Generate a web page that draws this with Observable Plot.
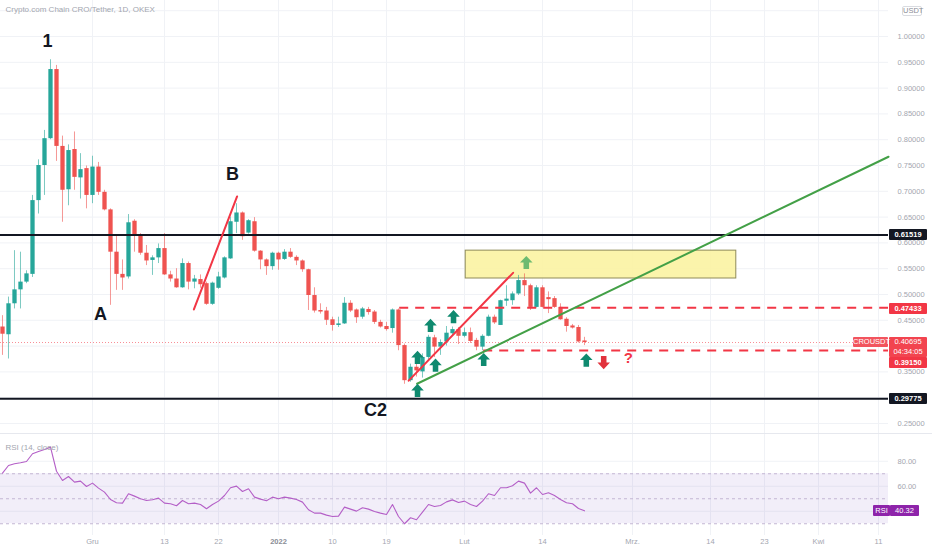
<!DOCTYPE html>
<html><head><meta charset="utf-8">
<script src="https://cdn.jsdelivr.net/npm/d3@7"></script>
<script src="https://cdn.jsdelivr.net/npm/@observablehq/plot@0.6"></script>
<style>
body{margin:0;background:#fff;font-family:"Liberation Sans",Arial,sans-serif;}
#wrap{position:relative;width:932px;height:550px;overflow:hidden;background:#fff;}
#wrap svg{position:absolute;left:0;}
.tag{position:absolute;color:#fff;font-size:7.5px;font-weight:bold;text-align:center;line-height:11px;box-sizing:border-box;border-radius:1px;}
</style></head><body><div id="wrap"></div>
<script>
// ---- data ----
const firstDay = Date.UTC(2021, 10, 16); // first candle: 16 Nov 2021, daily candles
const open  = [0.437,0.422,0.482,0.509,0.524,0.539,0.682,0.750,0.802,0.936,
  0.787,0.703,0.781,0.726,0.744,0.692,0.747,0.698,0.664,0.582,
  0.539,0.534,0.642,0.613,0.580,0.566,0.571,0.589,0.538,0.530,
  0.513,0.560,0.524,0.529,0.521,0.481,0.512,0.532,0.569,0.640,
  0.658,0.619,0.641,0.584,0.567,0.554,0.580,0.568,0.582,0.572,
  0.565,0.548,0.498,0.469,0.468,0.451,0.440,0.443,0.483,0.470,
  0.456,0.471,0.466,0.446,0.438,0.434,0.470,0.401,0.333,0.359,
  0.350,0.378,0.416,0.398,0.408,0.424,0.432,0.419,0.426,0.411,
  0.398,0.419,0.456,0.440,0.487,0.488,0.501,0.527,0.517,0.475,
  0.513,0.494,0.492,0.475,0.452,0.439,0.436,0.410];
const high  = [0.459,0.495,0.585,0.582,0.546,0.692,0.761,0.818,0.955,0.944,
  0.807,0.790,0.815,0.773,0.749,0.768,0.756,0.702,0.666,0.614,
  0.567,0.655,0.645,0.618,0.595,0.575,0.598,0.618,0.545,0.550,
  0.569,0.563,0.537,0.538,0.524,0.524,0.543,0.573,0.650,0.676,
  0.660,0.645,0.649,0.585,0.569,0.582,0.582,0.587,0.589,0.575,
  0.567,0.549,0.513,0.482,0.475,0.456,0.456,0.494,0.488,0.472,
  0.475,0.475,0.469,0.450,0.446,0.472,0.472,0.404,0.365,0.375,
  0.385,0.421,0.421,0.412,0.438,0.437,0.436,0.435,0.435,0.415,
  0.422,0.460,0.460,0.489,0.517,0.505,0.537,0.540,0.520,0.517,
  0.517,0.505,0.496,0.482,0.455,0.442,0.440,0.417];
const low   = [0.382,0.375,0.472,0.472,0.521,0.533,0.656,0.692,0.800,0.758,
  0.640,0.672,0.702,0.685,0.666,0.676,0.692,0.662,0.479,0.508,
  0.508,0.530,0.582,0.576,0.556,0.537,0.560,0.537,0.524,0.512,
  0.512,0.509,0.511,0.512,0.479,0.479,0.510,0.530,0.568,0.618,
  0.605,0.617,0.582,0.548,0.537,0.547,0.547,0.566,0.570,0.556,
  0.543,0.469,0.464,0.462,0.440,0.429,0.436,0.442,0.465,0.444,
  0.452,0.460,0.442,0.435,0.429,0.425,0.391,0.326,0.330,0.340,
  0.338,0.372,0.378,0.382,0.400,0.420,0.403,0.416,0.405,0.391,
  0.391,0.418,0.442,0.440,0.477,0.479,0.498,0.496,0.469,0.474,
  0.474,0.463,0.473,0.450,0.427,0.433,0.406,0.401];
const close = [0.423,0.482,0.509,0.524,0.540,0.682,0.750,0.802,0.936,0.787,
  0.702,0.779,0.727,0.742,0.692,0.747,0.698,0.664,0.582,0.539,
  0.532,0.639,0.613,0.580,0.565,0.571,0.589,0.538,0.530,0.513,
  0.560,0.524,0.530,0.519,0.481,0.522,0.534,0.571,0.641,0.658,
  0.612,0.643,0.584,0.567,0.554,0.580,0.567,0.582,0.572,0.565,
  0.548,0.498,0.468,0.466,0.450,0.440,0.443,0.483,0.468,0.455,
  0.472,0.465,0.446,0.437,0.432,0.470,0.401,0.333,0.359,0.352,
  0.378,0.417,0.398,0.407,0.425,0.432,0.419,0.426,0.409,0.398,
  0.419,0.456,0.445,0.488,0.491,0.501,0.527,0.517,0.475,0.513,
  0.475,0.490,0.475,0.451,0.438,0.435,0.408,0.407];
const rsi   = [70.5,76.6,78,78.8,79.8,86,87.8,89.4,91.3,72,
  64.6,67.8,63.3,64.1,59.8,62.5,58.5,55.3,49.4,46.8,
  46.5,54,52.1,50,48.6,49.2,50.5,46.5,46,44.4,
  48.6,46,46.5,45.4,42,45.4,48.1,52.6,58.8,60.1,
  55.8,58,51.3,49.7,48.4,51.3,50,51.3,50.5,49.4,
  47.3,41.2,38.5,38.5,36.9,35.8,36.1,43.3,41.7,40.1,
  42.8,41.7,39.8,38.5,37.4,45.4,35.8,30,34.8,33.2,
  39.3,45.4,43.8,44.6,47.5,49.1,47,48.1,45.4,43.8,
  48.1,54,52.6,58.8,58.8,60.4,64.1,62.5,54.5,58.8,
  53.4,54.8,52.6,49.4,46.8,46,42.2,40.32];

const priceGrid = [0.25,0.30,0.35,0.40,0.45,0.50,0.55,0.60,0.65,0.70,0.75,0.80,0.85,0.90,0.95,1.00,1.05];
const priceTickLabels = [0.25,0.35,0.45,0.50,0.55,0.60,0.65,0.70,0.75,0.80,0.85,0.90,0.95,1.00];
const rsiGrid = [80,60,40];
const rsiTickLabels = [80,60];
const rsiBands = [70,50,30];
const tickDates = [[2021,11,1],[2021,11,13],[2021,11,22],[2022,0,1],[2022,0,10],[2022,0,19],[2022,1,1],[2022,1,14],[2022,2,1],[2022,2,14],[2022,2,23],[2022,3,1],[2022,3,11]].map(([y,m,d]) => new Date(Date.UTC(y,m,d)));
const tickLabels = ["Gru","13","22","2022","10","19","Lut","14","Mrz.","14","23","Kwi","11"];

// drawing anchors, in days after 1 Dec 2021 and price
const hLevels = [0.61519, 0.29775];
const lastPrice = 0.40695;
const dashedLevels = [{d:51.2, p:0.47433}, {d:65.2, p:0.39150}];
const greenTrend = [{d:54.1, p:0.327}, {d:132.67, p:0.767}];
const redTrendB = [{d:16.9, p:0.471}, {d:24.1, p:0.690}];
const redTrendC = [{d:52.7, p:0.333}, {d:70.1, p:0.542}];
const zone = [{d1:62.2, d2:107.3, p1:0.531, p2:0.585}];
const upArrows = [{d:54.17,p:0.314},{d:54.17,p:0.378},{d:56.33,p:0.440},{d:57.17,p:0.363},{d:60.17,p:0.457},{d:65.2,p:0.374},{d:82.3,p:0.373}];
const lightArrows = [{d:72.3,p:0.562}];
const downArrows = [{d:85.2,p:0.368}];
const questionMarks = [{d:89.3,p:0.376,t:"?"}];
const waveLabels = [{d:-7.5,p:0.990,t:"1"},{d:1.33,p:0.461,t:"A"},{d:23.33,p:0.733,t:"B"},{d:47.17,p:0.275,t:"C2"}];

// ---- build ----
const dec1 = Date.UTC(2021, 11, 1);
const at = d => new Date(dec1 + d * 864e5);
const xDomain = [at(-15.333), at(132.667)];
const candles = open.map((o, i) => ({date: new Date(firstDay + i * 864e5), o, h: high[i], l: low[i], c: close[i], up: close[i] >= o}));
const rsiData = rsi.map((v, i) => ({date: candles[i].date, v}));
const GREEN = "#26a69a", RED = "#ef5350";
const gridC = "#f0f2f6", axisText = "#a3a6af";
const font = "Liberation Sans, Arial, sans-serif";

const upSym = {draw(ctx, size){ const r = Math.sqrt(size/Math.PI); const w = r*0.42;
  ctx.moveTo(0,-r); ctx.lineTo(r*0.95,0); ctx.lineTo(w,0); ctx.lineTo(w,r); ctx.lineTo(-w,r); ctx.lineTo(-w,0); ctx.lineTo(-r*0.95,0); ctx.closePath(); }};
const downSym = {draw(ctx, size){ const r = Math.sqrt(size/Math.PI); const w = r*0.42;
  ctx.moveTo(0,r); ctx.lineTo(r*0.95,0); ctx.lineTo(w,0); ctx.lineTo(w,-r); ctx.lineTo(-w,-r); ctx.lineTo(-w,0); ctx.lineTo(-r*0.95,0); ctx.closePath(); }};

const main = Plot.plot({
  width: 932, height: 433, marginLeft: 0, marginRight: 44, marginTop: 0, marginBottom: 0,
  style: {fontFamily: font, background: "transparent"},
  x: {type: "utc", domain: xDomain, axis: null},
  y: {domain: [0.2306, 1.0698], axis: null},
  marks: [
    Plot.ruleX(tickDates, {stroke: gridC}),
    Plot.ruleY(priceGrid, {stroke: gridC}),
    Plot.text(priceTickLabels, {frameAnchor: "right", y: d => d, text: d => d.toFixed(5), textAnchor: "start", dx: 9, fill: axisText, fontSize: 7.5}),
    Plot.text(["Crypto.com Chain CRO/Tether, 1D, OKEX"], {frameAnchor: "top-left", dx: 5, dy: 6, fill: axisText, fontSize: 8}),
    Plot.rect(zone, {x1: d => at(d.d1), x2: d => at(d.d2), y1: "p1", y2: "p2", fill: "#fbf3a2", fillOpacity: 0.9, stroke: "#8f8b58", strokeWidth: 1}),
    Plot.ruleY([lastPrice], {stroke: "#f23645", strokeWidth: 0.8, strokeDasharray: "1,2", strokeOpacity: 0.7}),
    Plot.ruleX(candles, {x: "date", y1: "l", y2: "h", stroke: d => d.up ? GREEN : RED, strokeOpacity: 0.6, strokeWidth: 1}),
    Plot.ruleX(candles, {x: "date", y1: "o", y2: "c", stroke: d => d.up ? GREEN : RED, strokeWidth: 4.3}),
    Plot.ruleY(hLevels, {stroke: "#131722", strokeWidth: 2}),
    Plot.ruleY(dashedLevels, {y: "p", x1: d => at(d.d), x2: () => xDomain[1], stroke: "#f23645", strokeWidth: 2, strokeDasharray: "9,7"}),
    Plot.line(greenTrend, {x: d => at(d.d), y: "p", stroke: "#43a047", strokeWidth: 2}),
    Plot.line(redTrendB, {x: d => at(d.d), y: "p", stroke: "#f23645", strokeWidth: 2}),
    Plot.line(redTrendC, {x: d => at(d.d), y: "p", stroke: "#f23645", strokeWidth: 2}),
    Plot.dot(upArrows, {x: d => at(d.d), y: "p", symbol: upSym, r: 6.6, fill: "#0f8a6f", stroke: "none"}),
    Plot.dot(lightArrows, {x: d => at(d.d), y: "p", symbol: upSym, r: 6.6, fill: "#6dbb71", stroke: "none"}),
    Plot.dot(downArrows, {x: d => at(d.d), y: "p", symbol: downSym, r: 6.6, fill: "#e1323c", stroke: "none"}),
    Plot.text(questionMarks, {x: d => at(d.d), y: "p", text: "t", fill: "#f23645", fontSize: 15, fontWeight: "bold"}),
    Plot.text(waveLabels, {x: d => at(d.d), y: "p", text: "t", fill: "#131722", fontSize: 18, fontWeight: 600})
  ]
});

const rsiPlot = Plot.plot({
  width: 932, height: 117, marginLeft: 0, marginRight: 44, marginTop: 0, marginBottom: 15,
  style: {fontFamily: font, background: "transparent"},
  x: {type: "utc", domain: xDomain, axis: null},
  y: {domain: [20.6, 102.2], axis: null},
  marks: [
    Plot.ruleX(tickDates, {stroke: gridC}),
    Plot.ruleY(rsiGrid, {stroke: gridC}),
    Plot.rect([{y1: rsiBands[2], y2: rsiBands[0]}], {x1: () => xDomain[0], x2: () => xDomain[1], y1: "y1", y2: "y2", fill: "#7e57c2", fillOpacity: 0.1}),
    Plot.ruleY(rsiBands, {stroke: "#c3b6d3", strokeDasharray: "3,3"}),
    Plot.line(rsiData, {x: "date", y: "v", stroke: "#b45fc7", strokeWidth: 1.1}),
    Plot.text(rsiTickLabels, {frameAnchor: "right", y: d => d, text: d => d.toFixed(2), textAnchor: "start", dx: 9, fill: axisText, fontSize: 7.5}),
    Plot.text(["RSI (14, close)"], {frameAnchor: "top-left", dx: 5, dy: 11, fill: axisText, fontSize: 8}),
    Plot.text(tickLabels.map((t, i) => ({t, x: tickDates[i]})).filter(d => d.t !== "2022"), {x: "x", text: "t", frameAnchor: "bottom", lineAnchor: "top", dy: 3, fill: axisText, fontSize: 7.5}),
    Plot.text(tickLabels.map((t, i) => ({t, x: tickDates[i]})).filter(d => d.t === "2022"), {x: "x", text: "t", frameAnchor: "bottom", lineAnchor: "top", dy: 3, fill: "#8a8d96", fontSize: 7.5, fontWeight: "bold"})
  ]
});

const wrap = document.getElementById("wrap");
main.style.top = "0px";
rsiPlot.style.top = "433px";
wrap.appendChild(main);
wrap.appendChild(rsiPlot);
const sep = document.createElement("div");
sep.style.cssText = "position:absolute;left:0;top:433px;width:932px;height:1px;background:#e6e8ee;";
wrap.appendChild(sep);

const ys = main.scale("y");
const yr = rsiPlot.scale("y");
function tag(top, left, width, height, bg, html, extra) {
  const el = document.createElement("div");
  el.className = "tag";
  el.style.cssText += `top:${top}px;left:${left}px;width:${width}px;height:${height}px;background:${bg};` + (extra || "");
  el.innerHTML = html;
  wrap.appendChild(el);
  return el;
}
const H = 11;
tag(ys.apply(hLevels[0]) - H/2, 889, 38, H, "#131722", hLevels[0].toFixed(5));
tag(ys.apply(hLevels[1]) - H/2, 889, 38, H, "#131722", hLevels[1].toFixed(5));
tag(ys.apply(dashedLevels[0].p) - H/2 + 1, 889, 38, H, "#f23645", dashedLevels[0].p.toFixed(5));
const lpTop = ys.apply(lastPrice) - 5.5;
tag(lpTop, 889, 38, 20, "#f2444f", lastPrice.toFixed(5) + "<br>04:34:05", "line-height:9.5px;padding-top:0.5px;font-weight:normal;");
tag(lpTop + 0.5, 853, 35, 10, "#f2545e", "CROUSDT", "font-weight:normal;line-height:10px;");
tag(Math.max(ys.apply(dashedLevels[1].p) - H/2, lpTop + 20), 889, 38, H, "#f23645", dashedLevels[1].p.toFixed(5));
tag(6, 902, 20, 10, "#fff", "USDT", "color:#8a8d96;font-weight:normal;border:1px solid #d9dbe0;border-radius:2px;line-height:8px;");
const rTop = 433 + yr.apply(rsi[rsi.length - 1]) - 5.5;
tag(rTop, 873, 17, H, "#8e24aa", "RSI", "font-weight:normal;");
tag(rTop, 890, 29, H, "#8e24aa", rsi[rsi.length - 1].toFixed(2), "font-weight:normal;");
</script>
</body></html>
